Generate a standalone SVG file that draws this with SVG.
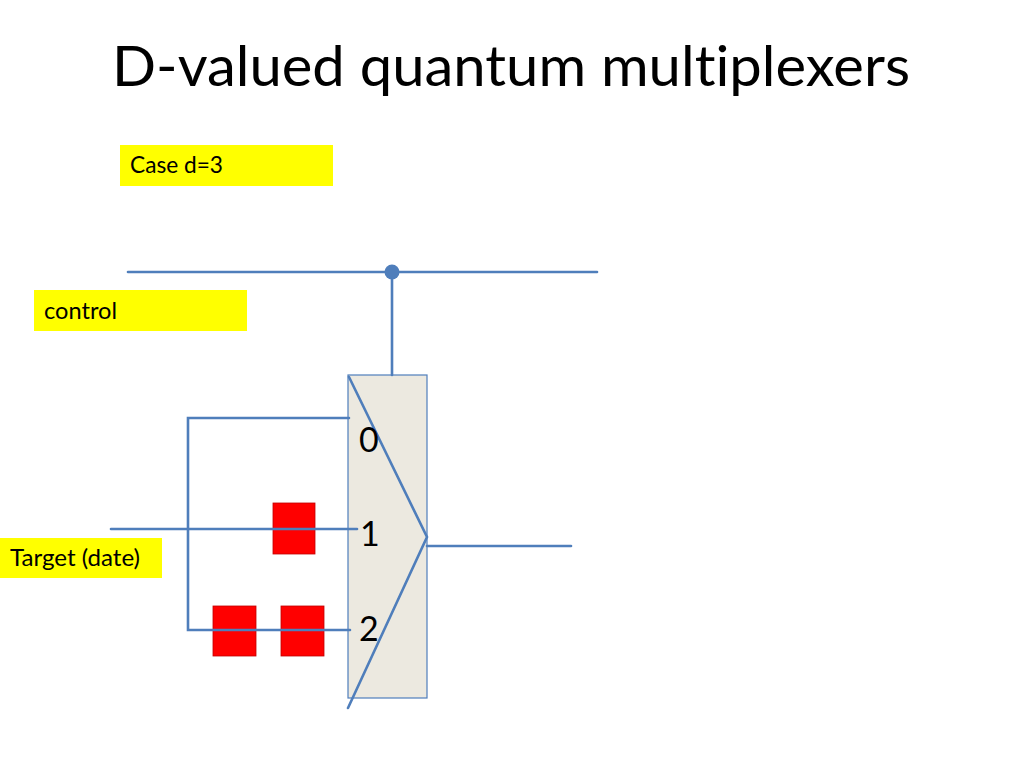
<svg xmlns="http://www.w3.org/2000/svg" width="1024" height="768" viewBox="0 0 1024 768">
<style>
.w{stroke:#4F7EBB;stroke-width:2.6;fill:none;stroke-linecap:round}
.lbl{fill:#FFFF00}
text{font-variant-ligatures:none}
.t{font-family:Lato,"Open Sans","Liberation Sans",sans-serif;font-size:23px;fill:#000}
.n{font-family:Lato,"Open Sans","Liberation Sans",sans-serif;font-size:34px;fill:#000}
.g{fill:#FF0000;stroke:#C00000;stroke-width:0.8}
</style>
<rect width="1024" height="768" fill="#fff"/>
<text x="112" y="86" font-family="Lato, Open Sans, Liberation Sans, sans-serif" font-size="56" fill="#000" textLength="798" lengthAdjust="spacingAndGlyphs">D-valued quantum multiplexers</text>
<g id="case-label"><rect class="lbl" x="120" y="145" width="213" height="41"/><text class="t" x="130" y="173" textLength="93" lengthAdjust="spacingAndGlyphs">Case d=3</text></g>
<g id="control-label"><rect class="lbl" x="34" y="290" width="213" height="41"/><text class="t" x="44" y="319" textLength="73" lengthAdjust="spacingAndGlyphs">control</text></g>
<g id="target-label"><rect class="lbl" x="0" y="538" width="162" height="40"/><text class="t" x="10" y="566" textLength="130" lengthAdjust="spacingAndGlyphs">Target (date)</text></g>
<g id="mux">
<rect x="348" y="375" width="79" height="323" fill="#ECE9E0" stroke="#4F7EBB" stroke-width="1.2"/>
<polyline class="w" points="349,377 427,537 348,708"/>
<text class="n" x="359" y="452">0</text>
<text class="n" x="360" y="546">1</text>
<text class="n" x="359" y="641">2</text>
</g>
<g id="gates">
<rect class="g" x="273" y="503" width="42" height="51"/>
<rect class="g" x="213" y="606" width="43" height="50"/>
<rect class="g" x="281" y="606" width="43" height="50"/>
</g>
<g id="connectors">
<line class="w" x1="128" y1="272" x2="597" y2="272"/>
<line class="w" x1="392" y1="272" x2="392" y2="375"/>
<polyline class="w" points="349,418 188,418 188,630 350,630"/>
<line class="w" x1="111" y1="529" x2="357" y2="529"/>
<line class="w" x1="427" y1="546" x2="571" y2="546"/>
</g>
<g id="control-dot"><circle cx="392" cy="272" r="7.5" fill="#4F7EBB"/></g>
</svg>
